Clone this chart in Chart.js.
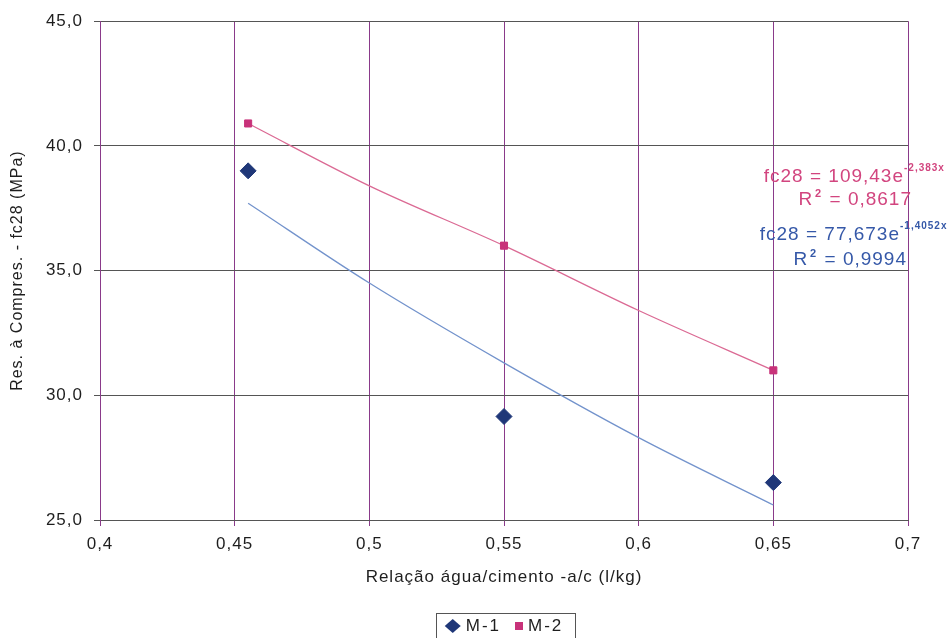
<!DOCTYPE html>
<html>
<head>
<meta charset="utf-8">
<script src="https://cdn.jsdelivr.net/npm/chart.js@4.4.0/dist/chart.umd.min.js"></script>
<style>
  html, body { margin: 0; padding: 0; background: #fff; }
  #wrap { width: 950px; height: 638px; }
</style>
</head>
<body>
<div id="wrap"><canvas id="chart" width="950" height="638"></canvas></div>
<script>
// measured points (a/c ratio vs fc28)
const acRatio = [0.455, 0.55, 0.65];
const m1Values = [39.0, 29.15, 26.5];
const m2Values = [40.9, 36.0, 31.0];

// trendlines
const trendX = [0.455, 0.5, 0.55, 0.6, 0.65];
const m1Trend = [37.7, 34.5, 31.3, 28.3, 25.6];
const m2Trend = [40.9, 38.4, 36.0, 33.4, 31.0];

const xTicks = [0.4, 0.45, 0.5, 0.55, 0.6, 0.65, 0.7];
const yTicks = [25, 30, 35, 40, 45];

const navy = "#1f3778";
const magenta = "#c8327a";
const font = "'Liberation Sans', Arial, sans-serif";
const textCol = "#1e1e1e";

const pts = (xs, ys) => xs.map((x, i) => ({ x: x, y: ys[i] }));

// scanned look: text is a bit spread out
const spacing = {
    id: "spacing",
    beforeUpdate(c) { c.ctx.letterSpacing = "1px"; },
    beforeDraw(c) { c.ctx.letterSpacing = "1px"; }
};

// regression labels + boxed legend
const extras = {
    id: "extras",
    afterDraw(c) {
        const ctx = c.ctx;
        ctx.save();
        ctx.letterSpacing = "1px";
        ctx.textBaseline = "alphabetic";

        function eq(main, sup, color, xr, y) {
            ctx.fillStyle = color;
            ctx.font = "19px " + font;
            ctx.textAlign = "right";
            ctx.fillText(main, xr, y);
            ctx.font = "bold 10px " + font;
            ctx.textAlign = "left";
            ctx.fillText(sup, xr, y - 11);
        }
        function r2(val, color, xr, y) {
            ctx.fillStyle = color;
            ctx.font = "19px " + font;
            const rest = " = " + val;
            const wRest = ctx.measureText(rest).width;
            const wR = ctx.measureText("R").width;
            ctx.font = "bold 11px " + font;
            const wSup = ctx.measureText("2").width + 3;
            let x = xr - wRest - wSup - wR;
            ctx.textAlign = "left";
            ctx.font = "19px " + font;
            ctx.fillText("R", x, y);
            ctx.font = "bold 11px " + font;
            ctx.fillText("2", x + wR + 2, y - 8);
            ctx.font = "19px " + font;
            ctx.fillText(rest, x + wR + wSup, y);
        }
        eq("fc28 = 109,43e", "-2,383x", "#d2457f", 904, 182);
        r2("0,8617", "#d2457f", 912, 205);
        eq("fc28 = 77,673e", "-1,4052x", "#3558a8", 900, 240);
        r2("0,9994", "#3558a8", 907, 265);

        // legend
        ctx.font = "17px " + font;
        ctx.letterSpacing = "2px";
        const l1 = c.data.datasets[0].label, l2 = c.data.datasets[1].label;
        const w1 = ctx.measureText(l1).width, w2 = ctx.measureText(l2).width;
        const total = 16 + 5 + w1 + 14 + 8 + 5 + w2;
        const bx = 505 - total / 2 - 10, by = 613, bw = total + 20, bh = 30;
        ctx.strokeStyle = "#555";
        ctx.lineWidth = 1;
        ctx.strokeRect(Math.round(bx) + 0.5, by + 0.5, Math.round(bw), bh);
        let x = bx + 9;
        const cy = by + 13;
        ctx.fillStyle = navy;
        ctx.beginPath();
        ctx.moveTo(x + 8, cy - 7); ctx.lineTo(x + 16, cy); ctx.lineTo(x + 8, cy + 7); ctx.lineTo(x, cy);
        ctx.closePath(); ctx.fill();
        x += 21;
        ctx.fillStyle = textCol;
        ctx.textAlign = "left";
        ctx.textBaseline = "middle";
        ctx.fillText(l1, x, cy);
        x += w1 + 14;
        ctx.fillStyle = magenta;
        ctx.fillRect(x, cy - 4, 8, 8);
        x += 13;
        ctx.fillStyle = textCol;
        ctx.fillText(l2, x, cy);
        ctx.restore();
    }
};

new Chart(document.getElementById("chart"), {
    type: "scatter",
    data: {
        datasets: [
            {
                label: "M-1",
                data: pts(acRatio, m1Values),
                pointStyle: "rectRot",
                pointRadius: 8,
                backgroundColor: navy,
                borderColor: navy,
                order: 1
            },
            {
                label: "M-2",
                data: pts(acRatio, m2Values),
                pointStyle: "rect",
                pointRadius: 5,
                backgroundColor: magenta,
                borderColor: magenta,
                order: 1
            },
            {
                label: "trend M-1",
                type: "line",
                data: pts(trendX, m1Trend),
                borderColor: "#7393cc",
                borderWidth: 1.3,
                pointRadius: 0,
                cubicInterpolationMode: "monotone",
                fill: false,
                order: 2
            },
            {
                label: "trend M-2",
                type: "line",
                data: pts(trendX, m2Trend),
                borderColor: "#db6a94",
                borderWidth: 1.3,
                pointRadius: 0,
                cubicInterpolationMode: "monotone",
                fill: false,
                order: 2
            }
        ]
    },
    options: {
        responsive: false,
        animation: false,
        layout: { padding: { left: 0, right: 42, top: 20, bottom: 46 } },
        plugins: {
            legend: { display: false },
            tooltip: { enabled: false }
        },
        scales: {
            x: {
                type: "linear",
                min: 0.4,
                max: 0.7,
                afterBuildTicks: s => { s.ticks = xTicks.map(v => ({ value: v })); },
                afterFit: s => { s.height = 72; },
                ticks: {
                    color: textCol,
                    font: { family: font, size: 17 },
                    padding: 8,
                    callback: v => String(Math.round(v * 100) / 100).replace(".", ",")
                },
                grid: { color: "#8a3a8a", tickColor: "#8a3a8a", tickLength: 6, lineWidth: 1 },
                border: { color: "#555", width: 1 },
                title: {
                    display: true,
                    text: "Relação água/cimento -a/c (l/kg)",
                    color: textCol,
                    font: { family: font, size: 17 }
                }
            },
            y: {
                min: 25,
                max: 45,
                afterBuildTicks: s => { s.ticks = yTicks.map(v => ({ value: v })); },
                afterFit: s => { s.width = 100; },
                ticks: {
                    color: textCol,
                    font: { family: font, size: 17 },
                    padding: 11,
                    callback: v => v.toFixed(1).replace(".", ",")
                },
                grid: { color: "#555", tickColor: "#555", tickLength: 6, lineWidth: 1 },
                border: { color: "#8a3a8a", width: 1 },
                title: {
                    display: true,
                    text: "Res. à Compres. - fc28 (MPa)",
                    color: textCol,
                    font: { family: font, size: 16 },
                    padding: { top: 8, bottom: 4 }
                }
            }
        }
    },
    plugins: [spacing, extras]
});
</script>
</body>
</html>
